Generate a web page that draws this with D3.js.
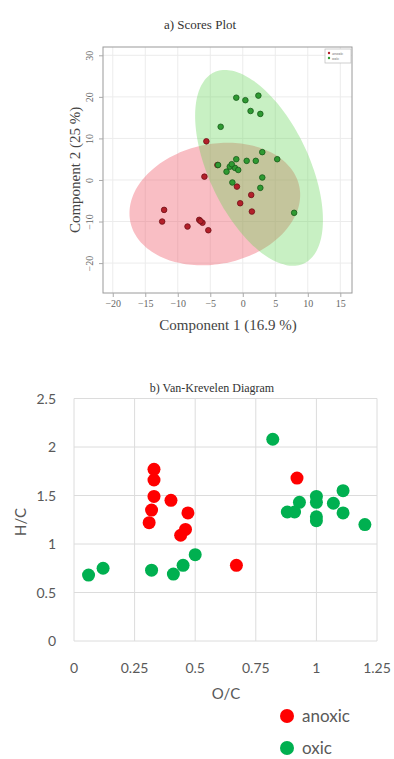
<!DOCTYPE html>
<html>
<head>
<meta charset="utf-8">
<script src="https://cdn.jsdelivr.net/npm/d3@7"></script>
<style>
  html, body { margin: 0; padding: 0; background: #fff; }
  svg { display: block; }
</style>
</head>
<body>
<div id="chart"></div>
<script>
// a) scores plot
const scoreXTicks = [-20, -15, -10, -5, 0, 5, 10, 15];
const scoreYTicks = [-20, -10, 0, 10, 20, 30];
const anoxicScoreX = [-5.6, -3.9, -5.9, -0.9, 1.3, -0.4, 1.4, -12.1, -12.4, -8.5, -6.7, -6.2, -6.5, -5.3];
const anoxicScoreY = [9.3, 3.6, 0.8, -1.6, -3.6, -5.6, -7.6, -7.2, -10.0, -11.2, -9.6, -10.3, -9.9, -12.1];
const oxicScoreX = [-1.0, 0.4, 2.4, 1.2, 2.7, -3.4, 3.0, -1.0, 0.6, 2.0, 5.3, -3.8, -2.0, -1.2, -2.5, -0.7, -1.7, 3.0, -1.6, 2.7, 7.9];
const oxicScoreY = [19.8, 19.2, 20.3, 16.6, 15.9, 12.8, 6.7, 5.0, 4.6, 4.6, 5.0, 3.6, 3.2, 2.9, 2.0, 2.4, 3.8, 0.6, -0.6, -1.9, -7.9];
// confidence ellipses: centre and two conjugate semi-axes, in score units
const anoxicEllipse = { center: [-4.3, -5.8], axisA: [13.1, 1.2], axisB: [0.9, 14.7] };
const oxicEllipse = { center: [2.5, 2.9], axisA: [6.9, -23.0], axisB: [-7.0, -5.1] };

// b) Van-Krevelen
const vkXTicks = [0, 0.25, 0.5, 0.75, 1, 1.25];
const vkYTicks = [0, 0.5, 1, 1.5, 2, 2.5];
const anoxicOC = [0.33, 0.33, 0.33, 0.32, 0.31, 0.40, 0.47, 0.46, 0.44, 0.92, 0.67];
const anoxicHC = [1.77, 1.66, 1.49, 1.35, 1.22, 1.45, 1.32, 1.15, 1.09, 1.68, 0.78];
const oxicOC = [0.82, 0.93, 0.88, 0.91, 1.0, 1.0, 1.0, 1.0, 1.07, 1.11, 1.11, 1.2, 0.06, 0.12, 0.32, 0.41, 0.45, 0.5];
const oxicHC = [2.08, 1.43, 1.33, 1.33, 1.49, 1.43, 1.28, 1.24, 1.42, 1.55, 1.32, 1.2, 0.68, 0.75, 0.73, 0.69, 0.78, 0.89];

const W = 394, H = 759;
const svg = d3.select('#chart').append('svg').attr('width', W).attr('height', H);

const serif = '"Liberation Serif", "DejaVu Serif", serif';
const sans = 'Lato, "Open Sans", sans-serif';

// ---------- top panel ----------
const x1 = d3.scaleLinear().domain([-21.5, 16.8]).range([103, 352]);
const y1 = d3.scaleLinear().domain([-27.2, 32]).range([293, 47]);
const topG = svg.append('g');

topG.append('text')
  .attr('x', 200).attr('y', 29)
  .attr('text-anchor', 'middle')
  .style('font-family', serif).style('font-size', '13px').attr('fill', '#333')
  .text('a) Scores Plot');

topG.selectAll('.gx').data(scoreXTicks).enter().append('line')
  .attr('x1', d => x1(d)).attr('x2', d => x1(d))
  .attr('y1', y1.range()[1]).attr('y2', y1.range()[0])
  .attr('stroke', '#ececec');
topG.selectAll('.gy').data(scoreYTicks).enter().append('line')
  .attr('y1', d => y1(d)).attr('y2', d => y1(d))
  .attr('x1', x1.range()[0]).attr('x2', x1.range()[1])
  .attr('stroke', '#ececec');

function ellipsePath(e) {
  const pts = d3.range(0, 360, 4).map(deg => {
    const t = deg * Math.PI / 180;
    const dx = e.center[0] + Math.cos(t) * e.axisA[0] + Math.sin(t) * e.axisB[0];
    const dy = e.center[1] + Math.cos(t) * e.axisA[1] + Math.sin(t) * e.axisB[1];
    return [x1(dx), y1(dy)];
  });
  return d3.line().curve(d3.curveCardinalClosed)(pts);
}

topG.append('path').attr('d', ellipsePath(anoxicEllipse))
  .attr('fill', 'rgb(240,92,107)').attr('fill-opacity', 0.4);
topG.append('path').attr('d', ellipsePath(oxicEllipse))
  .attr('fill', 'rgb(98,212,84)').attr('fill-opacity', 0.35);

topG.selectAll('.pa').data(anoxicScoreX).enter().append('circle')
  .attr('cx', d => x1(d)).attr('cy', (d, i) => y1(anoxicScoreY[i]))
  .attr('r', 2.8).attr('fill', '#b3202a').attr('stroke', '#6e1016').attr('stroke-width', 0.8);
topG.selectAll('.po').data(oxicScoreX).enter().append('circle')
  .attr('cx', d => x1(d)).attr('cy', (d, i) => y1(oxicScoreY[i]))
  .attr('r', 2.8).attr('fill', '#2f9a32').attr('stroke', '#175a19').attr('stroke-width', 0.8);

topG.append('rect')
  .attr('x', 103).attr('y', 47).attr('width', 249).attr('height', 246)
  .attr('fill', 'none').attr('stroke', '#9a9a9a');

// axes
const xAxis1 = topG.append('g').attr('transform', 'translate(0,293)')
  .call(d3.axisBottom(x1).tickValues(scoreXTicks).tickSize(4).tickPadding(3));
const yAxis1 = topG.append('g').attr('transform', 'translate(103,0)')
  .call(d3.axisLeft(y1).tickValues(scoreYTicks).tickSize(4).tickPadding(3));
[xAxis1, yAxis1].forEach(a => {
  a.select('.domain').remove();
  a.selectAll('line').attr('stroke', '#aaa');
  a.selectAll('text').style('font-family', serif).style('font-size', '10px').attr('fill', '#666');
});
yAxis1.selectAll('text')
  .attr('x', null).attr('dy', null)
  .attr('transform', 'translate(-10,0) rotate(-90)')
  .attr('text-anchor', 'middle');

topG.append('text')
  .attr('x', 228).attr('y', 330)
  .attr('text-anchor', 'middle')
  .style('font-family', serif).style('font-size', '15px').attr('fill', '#444')
  .text('Component 1 (16.9 %)');
topG.append('text')
  .attr('transform', 'translate(80,170) rotate(-90)')
  .attr('text-anchor', 'middle')
  .style('font-family', serif).style('font-size', '15px').attr('fill', '#444')
  .text('Component 2 (25 %)');

// tiny legend
const lg1 = topG.append('g');
lg1.append('rect').attr('x', 325).attr('y', 49).attr('width', 26).attr('height', 14)
  .attr('fill', '#fff').attr('stroke', '#bbb').attr('stroke-width', 0.7);
[['anoxic', '#b3202a'], ['oxic', '#2f9a32']].forEach((d, i) => {
  lg1.append('circle').attr('cx', 329).attr('cy', 53 + i * 5).attr('r', 1.2).attr('fill', d[1]);
  lg1.append('text').attr('x', 332).attr('y', 54.5 + i * 5)
    .style('font-family', sans).style('font-size', '4px').attr('fill', '#777').text(d[0]);
});

// ---------- bottom panel ----------
const x2 = d3.scaleLinear().domain([0, 1.25]).range([74, 377]);
const y2 = d3.scaleLinear().domain([0, 2.5]).range([641, 398.5]);
const bot = svg.append('g');

bot.append('text')
  .attr('x', 212).attr('y', 392)
  .attr('text-anchor', 'middle')
  .style('font-family', serif).style('font-size', '12px').attr('fill', '#333')
  .text('b) Van-Krevelen Diagram');

bot.selectAll('.gx').data(vkXTicks).enter().append('line')
  .attr('x1', d => x2(d)).attr('x2', d => x2(d))
  .attr('y1', y2(2.5)).attr('y2', y2(0))
  .attr('stroke', '#dcdcdc');
bot.selectAll('.gy').data(vkYTicks).enter().append('line')
  .attr('y1', d => y2(d)).attr('y2', d => y2(d))
  .attr('x1', x2(0)).attr('x2', x2(1.25))
  .attr('stroke', '#dcdcdc');

bot.selectAll('.tx').data(vkXTicks).enter().append('text')
  .attr('x', d => x2(d)).attr('y', 673)
  .attr('text-anchor', 'middle')
  .style('font-family', sans).style('font-size', '14px').attr('fill', '#595959')
  .text(d => d);
bot.selectAll('.ty').data(vkYTicks).enter().append('text')
  .attr('x', 56).attr('y', d => y2(d) + 5)
  .attr('text-anchor', 'end')
  .style('font-family', sans).style('font-size', '14px').attr('fill', '#595959')
  .text(d => d);

bot.append('text')
  .attr('x', 226).attr('y', 699)
  .attr('text-anchor', 'middle')
  .style('font-family', sans).style('font-size', '15px').attr('fill', '#595959')
  .text('O/C');
bot.append('text')
  .attr('transform', 'translate(26,522) rotate(-90)')
  .attr('text-anchor', 'middle')
  .style('font-family', sans).style('font-size', '15px').attr('fill', '#595959')
  .text('H/C');

bot.selectAll('.va').data(anoxicOC).enter().append('circle')
  .attr('cx', d => x2(d)).attr('cy', (d, i) => y2(anoxicHC[i]))
  .attr('r', 6.5).attr('fill', '#ff0000');
bot.selectAll('.vo').data(oxicOC).enter().append('circle')
  .attr('cx', d => x2(d)).attr('cy', (d, i) => y2(oxicHC[i]))
  .attr('r', 6.5).attr('fill', '#00b050');

const lg2 = bot.append('g');
[['anoxic', '#ff0000'], ['oxic', '#00b050']].forEach((d, i) => {
  lg2.append('circle').attr('cx', 287).attr('cy', 716 + i * 32).attr('r', 7).attr('fill', d[1]);
  lg2.append('text').attr('x', 302).attr('y', 722 + i * 32)
    .style('font-family', sans).style('font-size', '17px').attr('fill', '#595959').text(d[0]);
});
</script>
</body>
</html>
